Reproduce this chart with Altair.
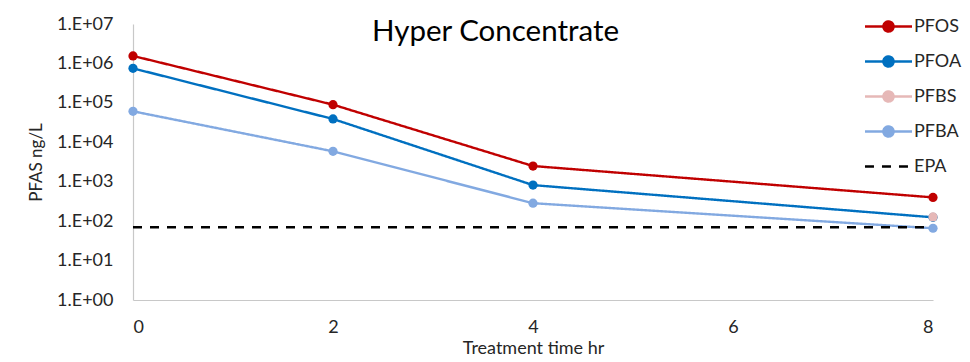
import altair as alt
import pandas as pd

# ---- data ----
series_names = ["PFOS", "PFOA", "PFBS", "PFBA", "EPA"]
series_colors = ["#C00000", "#0070C0", "#E6B8B7", "#82A9E1", "#000000"]

time_pfos = [0, 2, 4, 8]
pfos = [1.55e6, 9.0e4, 2.5e3, 400]

time_pfoa = [0, 2, 4, 8]
pfoa = [7.5e5, 3.9e4, 820, 125]

time_pfbs = [8]
pfbs = [128]

time_pfba = [0, 2, 4, 8]
pfba = [6.1e4, 5.9e3, 285, 66]

time_epa = [0, 8]
epa = [70, 70]

y_ticks = [1, 10, 100, 1e3, 1e4, 1e5, 1e6, 1e7]
x_ticks = [0, 2, 4, 6, 8]

rows = []
for name, xs, ys in [("PFOS", time_pfos, pfos), ("PFOA", time_pfoa, pfoa),
                     ("PFBS", time_pfbs, pfbs), ("PFBA", time_pfba, pfba),
                     ("EPA", time_epa, epa)]:
    for xv, yv in zip(xs, ys):
        rows.append({"series": name, "time": xv, "value": yv})
df = pd.DataFrame(rows)

FONT = "Lato"
TXT = "#262626"

circle_path = ("M-1.96,0L1.96,0M-0.42,0A0.42,0.42,0,1,1,0.42,0"
               "A0.42,0.42,0,1,1,-0.42,0Z")
line_path = "M-1.96,0L1.96,0"

legend = alt.Legend(
    title=None, orient="none", legendX=742, legendY=-11,
    symbolSize=576, symbolStrokeWidth=2.5, labelOffset=12,
    labelFont=FONT, labelFontSize=18, labelColor=TXT, rowPadding=11,
    padding=0, symbolOpacity=1,
    symbolType={"expr": f"datum.value === 'EPA' ? '{line_path}' : '{circle_path}'"},
    symbolFillColor={"expr": "datum.value === 'EPA' ? 'transparent' : scale('color', datum.value)"},
    symbolStrokeColor={"expr": "scale('color', datum.value)"},
    symbolDash={"expr": "datum.value === 'EPA' ? [6, 5] : [1, 0]"},
)

color = alt.Color("series:N",
                  scale=alt.Scale(domain=series_names, range=series_colors),
                  legend=legend)

x = alt.X("time:Q", scale=alt.Scale(domain=[0, 8], nice=False),
          axis=alt.Axis(values=x_ticks, title="Treatment time hr", ticks=False,
                        grid=False, domainColor="#C8C8C8", domainWidth=1.2,
                        labelPadding=18, titlePadding=3,
                        labelFont=FONT, labelFontSize=18, labelColor=TXT,
                        titleFont=FONT, titleFontSize=18, titleFontWeight="normal",
                        titleColor=TXT))
y = alt.Y("value:Q", scale=alt.Scale(type="log", domain=[1, 1e7], nice=False),
          axis=alt.Axis(values=y_ticks, title="PFAS ng/L", ticks=False, grid=False,
                        domainColor="#C8C8C8", domainWidth=1.2,
                        labelExpr="'1.E+' + pad(toString(round(log(datum.value)/LN10)), 2, '0', 'left')",
                        labelPadding=20, titlePadding=11,
                        labelFont=FONT, labelFontSize=18, labelColor=TXT,
                        titleFont=FONT, titleFontSize=17, titleFontWeight="normal",
                        titleColor=TXT))

dash = alt.StrokeDash("series:N",
                      scale=alt.Scale(domain=series_names,
                                      range=[[1, 0], [1, 0], [1, 0], [1, 0], [9, 8]]),
                      legend=None)

lines = alt.Chart(df).mark_line(strokeWidth=2.4).encode(
    x=x, y=y, color=color, strokeDash=dash, order="time:Q")

points = alt.Chart(df).transform_filter(
    alt.datum.series != "EPA"
).mark_point(filled=True, size=85, opacity=1).encode(
    x=x, y=y, color=color)

chart = alt.layer(lines, points).properties(
    width=800, height=276,
    autosize=alt.AutoSizeParams(type="none"),
    padding={"left": 125, "top": 16, "right": 29, "bottom": 60},
    title=alt.TitleParams("Hyper Concentrate", anchor="start", frame="group",
                          dx=239, dy=38, font=FONT, fontSize=29.5,
                          fontWeight="normal", color="#000000"),
).configure_view(stroke=None)

chart.save("out.html", embed_options={"renderer": "svg", "actions": False})
